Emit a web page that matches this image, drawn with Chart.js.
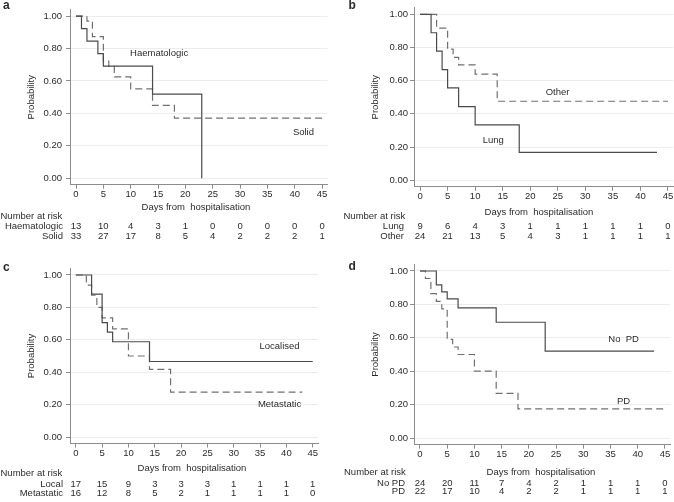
<!DOCTYPE html>
<html>
<head>
<meta charset="utf-8">
<script src="https://cdn.jsdelivr.net/npm/chart.js@4.4.1/dist/chart.umd.min.js"></script>
<style>
  html, body { margin: 0; padding: 0; background: #fff; overflow: hidden; }
  .panel { position: absolute; width: 337px; height: 251px; }
</style>
</head>
<body>
<div class="panel" style="left:0;top:0"><canvas id="chartA" width="337" height="251"></canvas></div>
<div class="panel" style="left:337px;top:0"><canvas id="chartB" width="337" height="251"></canvas></div>
<div class="panel" style="left:0;top:251px"><canvas id="chartC" width="337" height="251"></canvas></div>
<div class="panel" style="left:337px;top:251px"><canvas id="chartD" width="337" height="251"></canvas></div>
<script>
// axis ticks
const xTicks = [0, 5, 10, 15, 20, 25, 30, 35, 40, 45];
const yTicks = [0, 0.2, 0.4, 0.6, 0.8, 1.0];

// a: haematologic vs solid
const haemDays = [0, 1, 2, 4, 5, 14, 23];
const haemSurv = [1, 0.923, 0.846, 0.769, 0.692, 0.519, 0];
const solidDays = [0, 2, 3, 5, 6, 7, 10, 14, 18, 45];
const solidSurv = [1, 0.970, 0.874, 0.723, 0.690, 0.625, 0.551, 0.449, 0.371, 0.371];
const haemRisk = [13, 10, 4, 3, 1, 0, 0, 0, 0, 0];
const solidRisk = [33, 27, 17, 8, 5, 4, 2, 2, 2, 1];

// b: lung vs other
const lungDays = [0, 2, 3, 4, 5, 7, 10, 18, 43];
const lungSurv = [1, 0.889, 0.778, 0.667, 0.556, 0.444, 0.333, 0.167, 0.167];
const otherDays = [0, 3, 5, 6, 7, 10, 14, 45];
const otherSurv = [1, 0.917, 0.790, 0.740, 0.695, 0.640, 0.476, 0.476];
const lungRisk = [9, 6, 4, 3, 1, 1, 1, 1, 1, 0];
const otherRisk = [24, 21, 13, 5, 4, 3, 1, 1, 1, 1];

// c: localised vs metastatic
const localDays = [0, 3, 5, 6, 7, 14, 45];
const localSurv = [1, 0.882, 0.706, 0.647, 0.588, 0.466, 0.466];
const metaDays = [0, 2, 3, 4, 5, 7, 10, 14, 18, 43];
const metaSurv = [1, 0.938, 0.875, 0.800, 0.735, 0.667, 0.500, 0.417, 0.277, 0.277];
const localRisk = [17, 15, 9, 3, 3, 3, 1, 1, 1, 1];
const metaRisk = [16, 12, 8, 5, 2, 1, 1, 1, 1, 0];

// d: no PD vs PD
const noPdDays = [0, 3, 4, 5, 7, 14, 23, 43];
const noPdSurv = [1, 0.917, 0.875, 0.833, 0.779, 0.693, 0.520, 0.520];
const pdDays = [0, 1, 2, 3, 4, 5, 6, 7, 10, 14, 18, 45];
const pdSurv = [1, 0.955, 0.864, 0.818, 0.773, 0.591, 0.545, 0.500, 0.400, 0.267, 0.175, 0.175];
const noPdRisk = [24, 20, 11, 7, 4, 2, 1, 1, 1, 0];
const pdRisk = [22, 17, 10, 4, 2, 2, 1, 1, 1, 1];

const FONT = '"Liberation Sans", Arial, sans-serif';
const TEXT = '#2b2b2b';
const AXIS = '#8c8c8c';
Chart.defaults.font.family = FONT;
Chart.defaults.font.size = 9.5;
Chart.defaults.color = TEXT;

const toPts = (xs, ys) => xs.map((x, i) => ({ x: x, y: ys[i] }));

function kmPanel(id, p) {
  const H = 20;
  const extras = {
    id: 'extras' + id,
    afterDraw(chart) {
      const ctx = chart.ctx, xs = chart.scales.x, ys = chart.scales.y;
      ctx.save();
      ctx.fillStyle = TEXT;
      ctx.font = '9.5px ' + FONT;
      ctx.textBaseline = 'middle';
      ctx.textAlign = 'center';
      p.labels.forEach(l => ctx.fillText(l.text, xs.getPixelForValue(l.x), ys.getPixelForValue(l.y)));
      ctx.fillText('Days from  hospitalisation', p.titleX, p.titleY);
      ctx.textAlign = 'left';
      ctx.fillText('Number at risk', p.narX, p.narY);
      p.rows.forEach(r => {
        ctx.textAlign = 'right';
        ctx.fillText(r.name, p.rowRight, r.y);
        ctx.textAlign = 'center';
        r.counts.forEach((n, i) => ctx.fillText(String(n), xs.getPixelForValue(xTicks[i]), r.y));
      });
      ctx.font = 'bold 12px ' + FONT;
      ctx.textAlign = 'left';
      ctx.fillText(p.letter, p.letterX, p.letterY);
      ctx.restore();
    }
  };

  new Chart(document.getElementById(id), {
    type: 'line',
    data: {
      datasets: [
        {
          data: toPts(p.solid[0], p.solid[1]),
          borderColor: '#4a4a4a',
          borderWidth: 1.2,
          stepped: 'before',
          pointRadius: 0,
          fill: false
        },
        {
          data: toPts(p.dashed[0], p.dashed[1]),
          borderColor: '#707070',
          borderWidth: 1.2,
          borderDash: [7, 4],
          stepped: 'before',
          pointRadius: 0,
          fill: false
        }
      ]
    },
    options: {
      responsive: false,
      animation: false,
      layout: {
        padding: { left: 0, top: p.top, right: 337 - p.right, bottom: 251 - p.bottom - H }
      },
      plugins: { legend: { display: false }, tooltip: { enabled: false } },
      scales: {
        x: {
          type: 'linear',
          min: -1.1,
          max: 46,
          afterBuildTicks: s => { s.ticks = xTicks.map(v => ({ value: v })); },
          afterFit: s => { s.height = H; },
          ticks: { padding: 0, maxRotation: 0, font: { size: 9.5 }, color: TEXT },
          grid: { drawOnChartArea: false, tickLength: 4, tickColor: AXIS },
          border: { color: AXIS }
        },
        y: {
          min: -0.04,
          max: 1.04,
          afterBuildTicks: s => { s.ticks = yTicks.map(v => ({ value: v })); },
          afterFit: s => { s.width = p.left; },
          ticks: { padding: p.tickPad, callback: v => v.toFixed(2), font: { size: 9.5 }, color: TEXT },
          grid: { color: '#ececec', tickLength: 4, tickColor: AXIS },
          border: { color: AXIS },
          title: { display: true, text: 'Probability', padding: { top: p.yTitlePad, bottom: 0 }, font: { size: 9.5 }, color: TEXT }
        }
      }
    },
    plugins: [extras]
  });
}

kmPanel('chartA', {
  letter: 'a', letterX: 3, letterY: 6,
  left: 70, right: 327.5, top: 4.3, bottom: 184.7, tickPad: 4, yTitlePad: 26,
  solid: [haemDays, haemSurv], dashed: [solidDays, solidSurv],
  labels: [{ text: 'Haematologic', x: 15.2, y: 0.772 }, { text: 'Solid', x: 41.6, y: 0.28 }],
  titleX: 196, titleY: 207,
  narX: 0.5, narY: 216.5, rowRight: 63,
  rows: [{ name: 'Haematologic', counts: haemRisk, y: 226.5 }, { name: 'Solid', counts: solidRisk, y: 236 }]
});

kmPanel('chartB', {
  letter: 'b', letterX: 11.5, letterY: 6,
  left: 77, right: 336.5, top: 4.2, bottom: 186.8, tickPad: 2, yTitlePad: 32.6,
  solid: [lungDays, lungSurv], dashed: [otherDays, otherSurv],
  labels: [{ text: 'Other', x: 24.95, y: 0.53 }, { text: 'Lung', x: 13.3, y: 0.237 }],
  titleX: 202, titleY: 212.5,
  narX: 6.5, narY: 216, rowRight: 67,
  rows: [{ name: 'Lung', counts: lungRisk, y: 226 }, { name: 'Other', counts: otherRisk, y: 236 }]
});

kmPanel('chartC', {
  letter: 'c', letterX: 3, letterY: 16.3,
  left: 70, right: 318, top: 17.5, bottom: 192.5, tickPad: 4, yTitlePad: 26,
  solid: [localDays, localSurv], dashed: [metaDays, metaSurv],
  labels: [{ text: 'Localised', x: 38.7, y: 0.558 }, { text: 'Metastatic', x: 38.7, y: 0.203 }],
  titleX: 192, titleY: 217.3,
  narX: 0.5, narY: 222.3, rowRight: 63,
  rows: [{ name: 'Local', counts: localRisk, y: 233 }, { name: 'Metastatic', counts: metaRisk, y: 242.3 }]
});

kmPanel('chartD', {
  letter: 'd', letterX: 11.5, letterY: 15.7,
  left: 77, right: 333.4, top: 13.3, bottom: 193.7, tickPad: 2, yTitlePad: 32.6,
  solid: [noPdDays, noPdSurv], dashed: [pdDays, pdSurv],
  labels: [{ text: 'No  PD', x: 37.4, y: 0.592 }, { text: 'PD', x: 37.4, y: 0.219 }],
  titleX: 204, titleY: 221.3,
  narX: 7, narY: 221.3, rowRight: 68,
  rows: [{ name: 'No PD', counts: noPdRisk, y: 232.3 }, { name: 'PD', counts: pdRisk, y: 240.7 }]
});
</script>
</body>
</html>
